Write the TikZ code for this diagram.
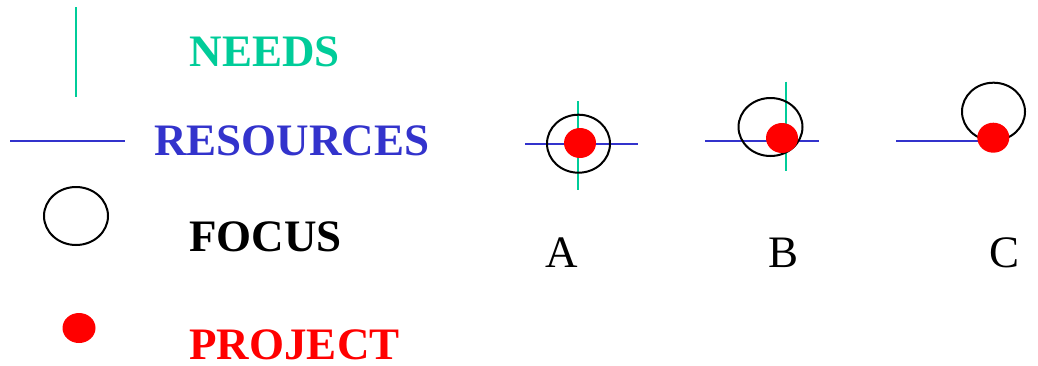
\documentclass[tikz,border=0pt]{standalone}
\usepackage{fontspec}
\setmainfont{Liberation Serif}
\usetikzlibrary{shapes.geometric}
\definecolor{needcol}{RGB}{0,204,153}
\definecolor{rescol}{RGB}{51,51,204}
\definecolor{projcol}{RGB}{255,0,0}
\tikzset{
  needline/.style={draw=needcol, line width=2pt},
  resline/.style={draw=rescol, line width=2pt},
  focusell/.style={ellipse, draw=black, line width=2pt, inner sep=0pt, minimum width=63pt, minimum height=58pt},
  projdot/.style={ellipse, fill=projcol, draw=none, inner sep=0pt, minimum width=32pt, minimum height=30pt},
  legtext/.style={anchor=base, inner sep=0pt, font=\fontsize{45}{54}\selectfont\bfseries},
  lettext/.style={anchor=base, inner sep=0pt, font=\fontsize{45}{54}\selectfont},
}
\begin{document}
\begin{tikzpicture}[x=1pt,y=-1pt]
\useasboundingbox (0,0) rectangle (1038,365);
% legend
\coordinate (n1) at (76,7);
\coordinate (n2) at (76,97);
\draw[needline] (n1) -- (n2);
\node[legtext, text=needcol] (tneeds) at (265,66) {NEEDS};
\coordinate (r1) at (10,141);
\coordinate (r2) at (125,141);
\draw[resline] (r1) -- (r2);
\node[legtext, text=rescol] (tres) at (292,155) {RESOURCES};
\node[focusell, minimum width=64pt] (lfocus) at (76,216) {};
\node[legtext, text=black] (tfocus) at (265.5,251) {FOCUS};
\node[projdot, minimum width=33pt] (lproj) at (79,328) {};
\node[legtext, text=projcol] (tproj) at (294.5,359.5) {PROJECT};
% A
\coordinate (ah1) at (525,144);
\coordinate (ah2) at (638,144);
\coordinate (av1) at (578,101);
\coordinate (av2) at (578,190);
\draw[resline] (ah1) -- (ah2);
\draw[needline] (av1) -- (av2);
\node[focusell] (af) at (578.5,143.7) {};
\node[projdot] (ap) at (580,143) {};
\node[lettext] (la) at (561.7,267) {A};
% B
\coordinate (bh1) at (705,140.7);
\coordinate (bh2) at (819,140.7);
\coordinate (bv1) at (786,81.7);
\coordinate (bv2) at (786,171);
\draw[resline] (bh1) -- (bh2);
\draw[needline] (bv1) -- (bv2);
\node[focusell, minimum width=64pt] (bf) at (770.5,127) {};
\node[projdot] (bp) at (782,138) {};
\node[lettext] (lb) at (783,267) {B};
% C
\coordinate (ch1) at (896,140.7);
\coordinate (ch2) at (993.3,140.7);
\draw[resline] (ch1) -- (ch2);
\node[focusell] (cf) at (993.5,111.7) {};
\node[projdot] (cp) at (993.3,137.7) {};
\node[lettext] (lc) at (1004,267) {C};
\end{tikzpicture}
\end{document}
